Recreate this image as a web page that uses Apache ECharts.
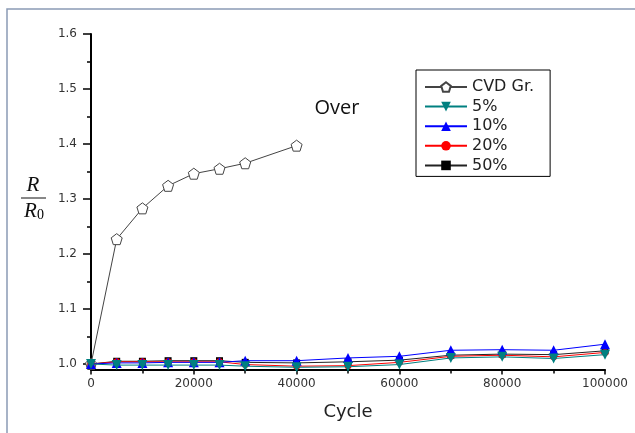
<!DOCTYPE html>
<html>
<head>
<meta charset="utf-8">
<script src="https://cdn.jsdelivr.net/npm/echarts@6/dist/echarts.min.js"></script>
<style>
html,body{margin:0;padding:0;background:#fff;}
#chart{width:635px;height:433px;}
</style>
</head>
<body>
<div id="chart"></div>
<script>
// ---- data ----
var cycles = [0, 5000, 10000, 15000, 20000, 25000, 30000, 40000, 50000, 60000, 70000, 80000, 90000, 100000];
var cvdCycles = [0, 5000, 10000, 15000, 20000, 25000, 30000, 40000];
var cvdGr = [1.000, 1.227, 1.283, 1.324, 1.346, 1.355, 1.365, 1.397];
var p5  = [1.000, 0.998, 0.998, 0.998, 0.998, 0.998, 0.996, 0.994, 0.995, 0.999, 1.011, 1.013, 1.010, 1.017];
var p10 = [1.000, 1.002, 1.002, 1.003, 1.003, 1.003, 1.006, 1.006, 1.011, 1.014, 1.025, 1.026, 1.025, 1.036];
var p20 = [1.000, 1.004, 1.004, 1.004, 1.004, 1.004, 0.999, 0.996, 0.997, 1.003, 1.014, 1.016, 1.013, 1.021];
var p50 = [1.000, 1.005, 1.005, 1.006, 1.006, 1.006, 1.003, 1.002, 1.004, 1.007, 1.016, 1.018, 1.017, 1.024];
var seriesNames = ['CVD Gr.', '5%', '10%', '20%', '50%'];
var yMajorTicks = [1.0, 1.1, 1.2, 1.3, 1.4, 1.5, 1.6];
var yMinorTicks = [1.05, 1.15, 1.25, 1.35, 1.45, 1.55];
var xAxisTitle = 'Cycle';
var annotation = 'Over';

function pairs(xs, ys) { return xs.map(function (x, i) { return [x, ys[i]]; }); }

var pentagon = 'path://M50,0 L97.6,34.5 L79.4,90.5 L20.6,90.5 L2.4,34.5 Z';
var labelFont = 'DejaVu Sans';

var chart = echarts.init(document.getElementById('chart'), null, {renderer: 'canvas'});
chart.setOption({
  animation: false,
  backgroundColor: '#ffffff',
  grid: {left: 91, right: 30, top: 34, bottom: 63.5, containLabel: false},
  xAxis: {
    type: 'value', min: 0, max: 100000, interval: 20000,
    axisLine: {show: true, lineStyle: {color: '#000', width: 2}},
    axisTick: {show: true, length: 5, lineStyle: {color: '#000', width: 1.5}},
    minorTick: {show: true, splitNumber: 2, length: 4, lineStyle: {color: '#000', width: 1.5}},
    splitLine: {show: false},
    axisLabel: {margin: 8, fontFamily: labelFont, fontSize: 12, color: '#333',
      formatter: function (v) { return String(v); }}
  },
  yAxis: [{
    type: 'value', min: 0.99, max: 1.6,
    axisLine: {show: true, onZero: false, lineStyle: {color: '#000', width: 2}},
    axisTick: {show: true, length: 8, customValues: yMajorTicks, lineStyle: {color: '#000', width: 1.5}},
    axisLabel: {margin: 14, customValues: yMajorTicks, fontFamily: labelFont, fontSize: 12, color: '#333',
      formatter: function (v) { return v.toFixed(1); }},
    splitLine: {show: false}
  }, {
    type: 'value', min: 0.99, max: 1.6, position: 'left',
    axisLine: {show: false},
    axisTick: {show: true, length: 4, customValues: yMinorTicks, lineStyle: {color: '#000', width: 1.5}},
    axisLabel: {show: false},
    splitLine: {show: false}
  }],
  legend: {
    orient: 'vertical', left: 416, top: 70,
    data: seriesNames,
    itemWidth: 42, itemHeight: 12, itemGap: 3.6,
    padding: [9, 16, 3, 8],
    borderColor: '#000', borderWidth: 1,
    textStyle: {fontFamily: labelFont, fontSize: 16, color: '#222'}
  },
  series: [
    {name: 'CVD Gr.', type: 'line', data: pairs(cvdCycles, cvdGr), z: 2,
      symbol: pentagon, symbolSize: 11,
      itemStyle: {color: '#ffffff', borderColor: '#444', borderWidth: 1},
      lineStyle: {color: '#444', width: 1}},
    {name: '5%', type: 'line', data: pairs(cycles, p5), z: 6,
      symbol: 'triangle', symbolRotate: 180, symbolSize: 10,
      itemStyle: {color: '#008080'}, lineStyle: {color: '#008080', width: 1}},
    {name: '10%', type: 'line', data: pairs(cycles, p10), z: 5,
      symbol: 'triangle', symbolSize: 10,
      itemStyle: {color: '#0000ff'}, lineStyle: {color: '#0000ff', width: 1}},
    {name: '20%', type: 'line', data: pairs(cycles, p20), z: 4,
      symbol: 'circle', symbolSize: 7,
      itemStyle: {color: '#ff0000'}, lineStyle: {color: '#ff0000', width: 1}},
    {name: '50%', type: 'line', data: pairs(cycles, p50), z: 3,
      symbol: 'rect', symbolSize: 7,
      itemStyle: {color: '#000000'}, lineStyle: {color: '#222', width: 1}}
  ],
  graphic: [
    {type: 'rect', shape: {x: 7, y: 9, width: 700, height: 500}, silent: true,
      style: {fill: 'none', stroke: '#8a9bb5', lineWidth: 1.5}, z: -1},
    {type: 'text', x: 348, y: 412, style: {text: xAxisTitle, font: '18px "DejaVu Sans"', fill: '#222',
      textAlign: 'center', textVerticalAlign: 'middle'}},
    {type: 'text', x: 337, y: 108, style: {text: annotation, font: '20px "Open Sans"', fill: '#111',
      textAlign: 'center', textVerticalAlign: 'middle'}},
    {type: 'text', x: 33, y: 185, style: {text: 'R', font: 'italic 21px "Liberation Serif"', fill: '#111',
      textAlign: 'center', textVerticalAlign: 'middle'}},
    {type: 'line', shape: {x1: 21, y1: 198, x2: 46, y2: 198}, style: {stroke: '#111', lineWidth: 1}},
    {type: 'text', x: 34, y: 211, style: {
      text: '{a|R}{b|0}', textAlign: 'center', textVerticalAlign: 'middle',
      rich: {a: {font: 'italic 21px "Liberation Serif"', fill: '#111', color: '#111'},
             b: {font: '14px "Liberation Serif"', color: '#111', padding: [8, 0, 0, 0]}}}}
  ]
});
</script>
</body>
</html>
